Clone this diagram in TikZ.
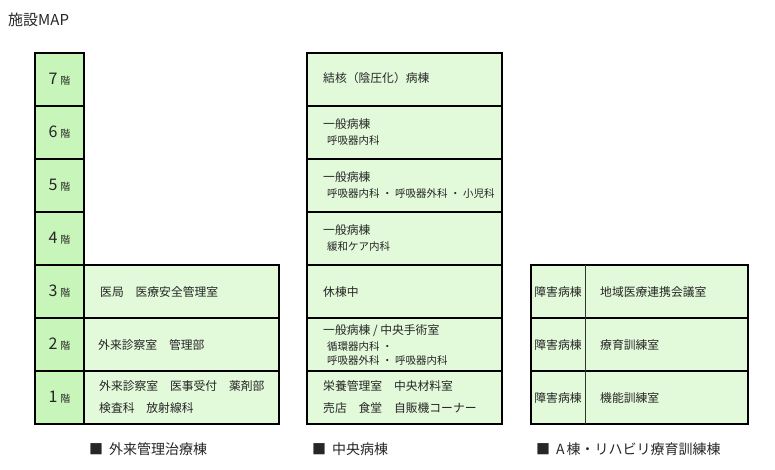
\documentclass[tikz,border=0pt]{standalone}
\usepackage{fontspec}
\setmainfont{Noto Sans CJK JP}
\usetikzlibrary{positioning}
\definecolor{floorgreen}{RGB}{200,245,186}
\definecolor{roomgreen}{RGB}{226,249,218}
\definecolor{ink}{RGB}{38,38,38}
\newcommand{\flno}[1]{{\fontsize{16}{18}\selectfont #1}\hspace{3pt}{\fontsize{10}{11}\selectfont 階}}
\newcommand{\dotsep}{\hspace{2.5pt}・\hspace{2.5pt}}

\begin{document}
\begin{tikzpicture}[x=1pt,y=-1pt,
  cell/.style={draw=black,line width=2.5pt,fill=roomgreen,inner sep=0pt,outer sep=0pt,minimum height=53pt,anchor=north west},
  floorcell/.style={cell,fill=floorgreen,minimum width=49pt,text=ink},
  roomcell/.style={cell,minimum width=195pt},
  wardcell/.style={cell,minimum width=217pt},
  txt/.style={anchor=west,inner sep=0pt,text=ink,font=\fontsize{11.8}{14}\selectfont},
  sub/.style={txt,font=\fontsize{10.5}{12}\selectfont},
  legend/.style={txt,font=\fontsize{14}{16}\selectfont}]
  \useasboundingbox (0,0) rectangle (775,470);
  \node[anchor=west,inner sep=0pt,text=ink,font=\fontsize{15}{17}\selectfont] (title) at (8,20) {施設MAP};

  % outpatient building
  \node[roomcell] (l3) at (84,265) {};
  \node[roomcell] (l2) at (84,318) {};
  \node[roomcell] (l1) at (84,371) {};
  \node[floorcell] (f7) at (35,53) {\flno{7}};
  \node[floorcell] (f6) at (35,106) {\flno{6}};
  \node[floorcell] (f5) at (35,159) {\flno{5}};
  \node[floorcell] (f4) at (35,212) {\flno{4}};
  \node[floorcell] (f3) at (35,265) {\flno{3}};
  \node[floorcell] (f2) at (35,318) {\flno{2}};
  \node[floorcell] (f1) at (35,371) {\flno{1}};
  \node[txt] (l3a) at (100,292) {医局　医療安全管理室};
  \node[txt] (l2a) at (98,345) {外来診察室　管理部};
  \node[txt] (l1a) at (99,386) {外来診察室　医事受付　薬剤部};
  \node[txt] (l1b) at (99,408) {検査科　放射線科};

  % central building
  \node[roomcell] (m7) at (307,53) {};
  \node[roomcell] (m6) at (307,106) {};
  \node[roomcell] (m5) at (307,159) {};
  \node[roomcell] (m4) at (307,212) {};
  \node[roomcell] (m3) at (307,265) {};
  \node[roomcell] (m2) at (307,318) {};
  \node[roomcell] (m1) at (307,371) {};
  \node[txt] (m7a) at (323,78) {結核（陰圧化）病棟};
  \node[txt] (m6a) at (323,124) {一般病棟};
  \node[sub] (m6b) at (327,141) {呼吸器内科};
  \node[txt] (m5a) at (323,177) {一般病棟};
  \node[sub] (m5b) at (327,194) {呼吸器内科\dotsep 呼吸器外科\dotsep 小児科};
  \node[txt] (m4a) at (323,230) {一般病棟};
  \node[sub] (m4b) at (327,247) {緩和ケア内科};
  \node[txt] (m3a) at (323,292) {休棟中};
  \node[txt] (m2a) at (323,331) {一般病棟 / 中央手術室};
  \node[sub] (m2b) at (327,347) {循環器内科\dotsep};
  \node[sub] (m2c) at (327,361) {呼吸器外科\dotsep 呼吸器内科};
  \node[txt] (m1a) at (323,386) {栄養管理室　中央材料室};
  \node[txt] (m1b) at (323,408) {売店　食堂　自販機コーナー};

  % A ward / rehabilitation building
  \node[wardcell] (r3) at (531,265) {};
  \node[wardcell] (r2) at (531,318) {};
  \node[wardcell] (r1) at (531,371) {};
  \draw[line width=0.8pt,black!80] ([xshift=54pt]r3.north west) -- ([xshift=54pt]r1.south west);
  \node[txt,anchor=center] (r3a) at (558,292) {障害病棟};
  \node[txt,anchor=center] (r2a) at (558,345) {障害病棟};
  \node[txt,anchor=center] (r1a) at (558,398) {障害病棟};
  \node[txt] (r3b) at (600,292) {地域医療連携会議室};
  \node[txt] (r2b) at (600,345) {療育訓練室};
  \node[txt] (r1b) at (600,398) {機能訓練室};

  % legend
  \node[legend] (k1) at (89,449) {■\hspace{6pt}外来管理治療棟};
  \node[legend] (k2) at (312,449) {■\hspace{6pt}中央病棟};
  \node[legend] (k3) at (536,449) {■\hspace{6pt}A\hspace{2pt}棟・リハビリ療育訓練棟};
\end{tikzpicture}
\end{document}
